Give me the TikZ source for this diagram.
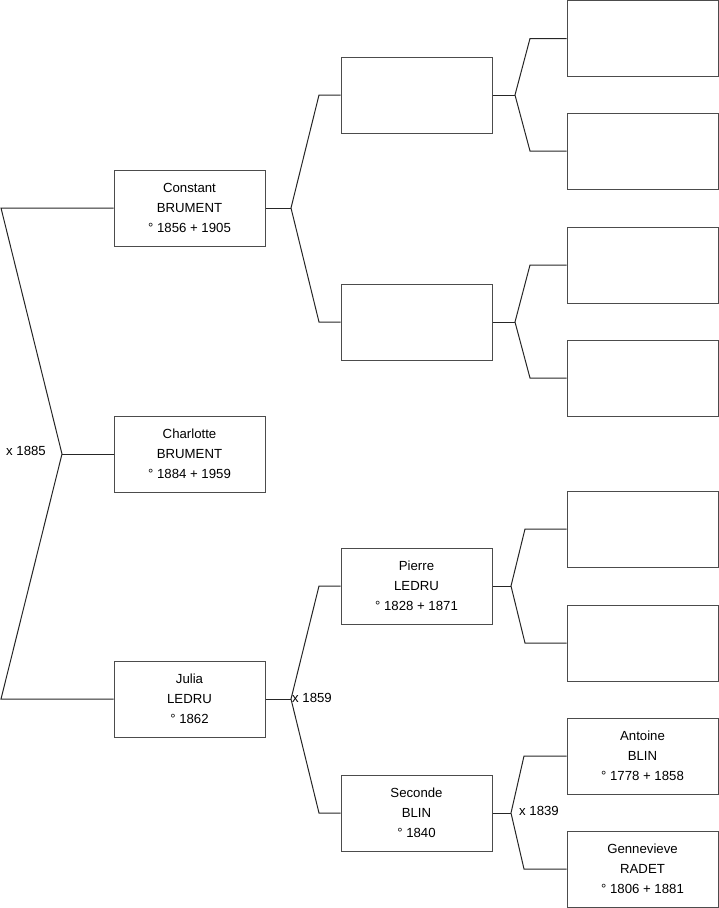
\documentclass[tikz,border=0pt]{standalone}
\usepackage{fontspec}
\setmainfont{Liberation Sans}
\begin{document}
\begin{tikzpicture}[x=1pt,y=-1pt,
  person/.style={draw=black!70,line width=1pt,minimum width=151pt,minimum height=76pt,inner sep=0pt,align=center,font=\fontsize{13.2}{20}\selectfont},
  link/.style={draw=black!85,line width=1pt},
  lbl/.style={font=\fontsize{13.2}{15}\selectfont,inner sep=1pt}]
\useasboundingbox (0,0) rectangle (719,908);
% generation 1
\node[person] (c) at (189.5,208) {Constant\\BRUMENT\\° 1856 + 1905};
\node[person] (ch) at (189.5,454) {Charlotte\\BRUMENT\\° 1884 + 1959};
\node[person] (j) at (189.5,699) {Julia\\LEDRU\\° 1862};
% generation 2
\node[person] (ga) at (416.5,95) {};
\node[person] (gb) at (416.5,322) {};
\node[person] (p) at (416.5,586) {Pierre\\LEDRU\\° 1828 + 1871};
\node[person] (s) at (416.5,813) {Seconde\\BLIN\\° 1840};
% generation 3
\node[person] (h1) at (642.5,38.5) {};
\node[person] (h2) at (642.5,151) {};
\node[person] (h3) at (642.5,265) {};
\node[person] (h4) at (642.5,378) {};
\node[person] (h5) at (642.5,529) {};
\node[person] (h6) at (642.5,643) {};
\node[person] (a) at (642.5,756) {Antoine\\BLIN\\° 1778 + 1858};
\node[person] (gr) at (642.5,869) {Gennevieve\\RADET\\° 1806 + 1881};
% fork points
\coordinate (f0) at (62,454);
\coordinate (f0u) at (1,208);
\coordinate (f0d) at (1,699);
\coordinate (f1) at (291,208);
\coordinate (f1u) at (319,95);
\coordinate (f1d) at (319,322);
\coordinate (f2) at (291,699);
\coordinate (f2u) at (319,586);
\coordinate (f2d) at (319,813);
\coordinate (f3) at (515,95);
\coordinate (f3u) at (530,38.5);
\coordinate (f3d) at (530,151);
\coordinate (f4) at (515,322);
\coordinate (f4u) at (530,265);
\coordinate (f4d) at (530,378);
\coordinate (f5) at (511,586);
\coordinate (f5u) at (525,529);
\coordinate (f5d) at (525,643);
\coordinate (f6) at (511,813);
\coordinate (f6u) at (524,756);
\coordinate (f6d) at (524,869);
% connectors
\draw[link] (ch.west) -- (f0);
\draw[link] (c.west) -- (f0u) -- (f0) -- (f0d) -- (j.west);
\draw[link] (c.east) -- (f1);
\draw[link] (ga.west) -- (f1u) -- (f1) -- (f1d) -- (gb.west);
\draw[link] (j.east) -- (f2);
\draw[link] (p.west) -- (f2u) -- (f2) -- (f2d) -- (s.west);
\draw[link] (ga.east) -- (f3);
\draw[link] (h1.west) -- (f3u) -- (f3) -- (f3d) -- (h2.west);
\draw[link] (gb.east) -- (f4);
\draw[link] (h3.west) -- (f4u) -- (f4) -- (f4d) -- (h4.west);
\draw[link] (p.east) -- (f5);
\draw[link] (h5.west) -- (f5u) -- (f5) -- (f5d) -- (h6.west);
\draw[link] (s.east) -- (f6);
\draw[link] (a.west) -- (f6u) -- (f6) -- (f6d) -- (gr.west);
% marriage labels
\node[lbl,anchor=east] (m0) at (47,451) {x 1885};
\node[lbl,anchor=west] (m1) at (291,698) {x 1859};
\node[lbl,anchor=west] (m2) at (518,811) {x 1839};
\end{tikzpicture}
\end{document}
